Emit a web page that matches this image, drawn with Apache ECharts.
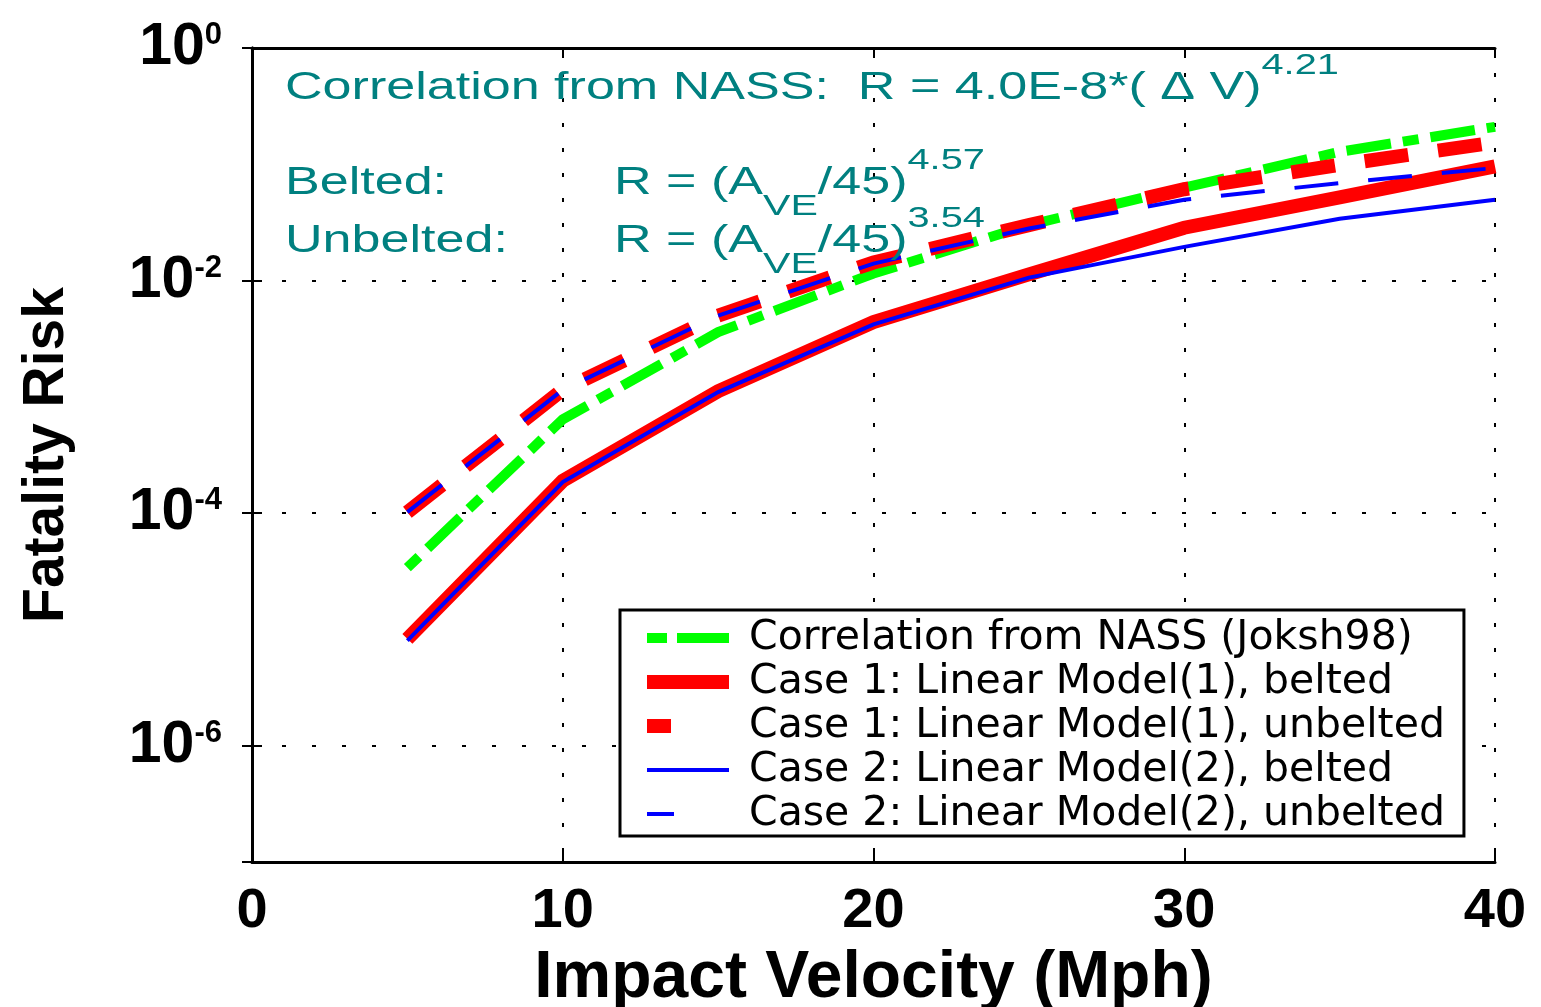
<!DOCTYPE html>
<html><head><meta charset="utf-8">
<script src="https://cdn.jsdelivr.net/npm/echarts@6/dist/echarts.min.js"></script>
<style>html,body{margin:0;padding:0;background:#fff}#c{width:1541px;height:1007px}</style>
</head><body><div id="c"></div>
<script>
// ---- data ----
const velocity = [5, 10, 15, 20, 25, 30, 35, 40];
const nassCorrelation = [3.4e-5, 6.4e-4, 3.6e-3, 1.15e-2, 3.0e-2, 6.3e-2, 0.128, 0.21];
const case1Belted = [8.3e-6, 1.9e-4, 1.12e-3, 4.4e-3, 1.13e-2, 2.85e-2, 5.2e-2, 9.6e-2];
const case1Unbelted = [1.02e-4, 1.15e-3, 5.0e-3, 1.43e-2, 3.0e-2, 6.1e-2, 9.9e-2, 0.154];
const case2Belted = [8.0e-6, 1.85e-4, 1.1e-3, 4.2e-3, 1.06e-2, 1.95e-2, 3.4e-2, 4.96e-2];
const case2Unbelted = [1.02e-4, 1.15e-3, 5.0e-3, 1.40e-2, 2.8e-2, 4.96e-2, 6.9e-2, 9.3e-2];
const seriesNames = [
  'Correlation from NASS (Joksh98)',
  'Case 1: Linear Model(1), belted',
  'Case 1: Linear Model(1), unbelted',
  'Case 2: Linear Model(2), belted',
  'Case 2: Linear Model(2), unbelted'
];
const xMin = 0, xMax = 40, xStep = 10;
const yMin = 1e-7, yMax = 1;
const xTitle = 'Impact Velocity (Mph)';
const yTitle = 'Fatality Risk';

const pairs = vals => velocity.map((v, i) => [v, vals[i]]);
const FONT = "'Liberation Sans', Arial, Helvetica, sans-serif";
const TEAL = '#008080';

const chart = echarts.init(document.getElementById('c'), null, {renderer: 'canvas'});

const gridDash = {color: '#000', width: 2};
const hideSym = {opacity: 0};
const option = {
  animation: false,
  backgroundColor: '#fff',
  grid: {left: 252, right: 46, top: 48, bottom: 145, containLabel: false, outerBoundsMode: 'none'},
  xAxis: [{
    type: 'value', min: xMin, max: xMax, interval: xStep, position: 'bottom',
    name: xTitle, nameLocation: 'middle', nameGap: 84,
    nameTextStyle: {fontFamily: FONT, fontSize: 66, fontWeight: 'bold', color: '#000'},
    axisLine: {show: true, lineStyle: {color: '#000', width: 3}},
    axisTick: {show: true, inside: true, length: 10, lineStyle: {color: '#000', width: 2}},
    axisLabel: {fontFamily: FONT, fontSize: 56, fontWeight: 'bold', color: '#000', margin: 22},
    splitLine: {show: true, lineStyle: Object.assign({type: [4, 21]}, gridDash)}
  }, {
    type: 'value', min: xMin, max: xMax, interval: xStep, position: 'top',
    axisLine: {show: true, onZero: false, lineStyle: {color: '#000', width: 3}},
    axisTick: {show: true, inside: true, length: 10, lineStyle: {color: '#000', width: 2}},
    axisLabel: {show: false}, splitLine: {show: false}
  }],
  yAxis: [{
    type: 'log', logBase: 100, min: yMin, max: yMax, splitNumber: 4, position: 'left',
    name: yTitle, nameLocation: 'middle', nameGap: 176, nameRotate: 90,
    nameTextStyle: {fontFamily: FONT, fontSize: 57, fontWeight: 'bold', color: '#000'},
    axisLine: {show: true, lineStyle: {color: '#000', width: 3}},
    axisTick: {show: true, inside: true, length: 10, lineStyle: {color: '#000', width: 2}},
    axisLabel: {
      margin: 30, showMinLabel: false,
      formatter: v => '{b|10}{s|' + Math.round(Math.log10(v)) + '}',
      rich: {
        b: {fontFamily: FONT, fontSize: 59, fontWeight: 'bold', color: '#000', lineHeight: 56, verticalAlign: 'middle'},
        s: {fontFamily: FONT, fontSize: 31, fontWeight: 'bold', color: '#000', lineHeight: 31, verticalAlign: 'top'}
      }
    },
    splitLine: {show: true, lineStyle: Object.assign({type: [4, 26]}, gridDash)}
  }, {
    type: 'log', logBase: 100, min: yMin, max: yMax, splitNumber: 4, position: 'right',
    axisLine: {show: true, lineStyle: {color: '#000', width: 3}},
    axisTick: {show: true, inside: true, length: 10, lineStyle: {color: '#000', width: 2}},
    axisLabel: {show: false}, splitLine: {show: false}
  }],
  legend: {
    orient: 'vertical', left: 620, top: 610, selectedMode: false,
    backgroundColor: '#fff', borderColor: '#000', borderWidth: 3, borderRadius: 0,
    padding: [6, 19, 0, 20], itemGap: 0, itemWidth: 82, itemHeight: 14,
    textStyle: {fontFamily: "'DejaVu Sans', sans-serif", fontSize: 41, color: '#000', lineHeight: 44, padding: [0, 0, 0, 15]},
    data: [
      {name: seriesNames[0], itemStyle: hideSym, lineStyle: {width: 10, type: [20, 10, 52, 100]}},
      {name: seriesNames[1], itemStyle: hideSym, lineStyle: {width: 14, type: 'solid'}},
      {name: seriesNames[2], itemStyle: hideSym, lineStyle: {width: 14, type: [24, 100]}},
      {name: seriesNames[3], itemStyle: hideSym, lineStyle: {width: 4, type: 'solid'}},
      {name: seriesNames[4], itemStyle: hideSym, lineStyle: {width: 4, type: [27, 100]}}
    ]
  },
  series: [
    {name: seriesNames[0], type: 'line', data: pairs(nassCorrelation), symbol: 'none', z: 2,
     lineStyle: {color: '#00ff00', width: 10, type: [16, 12, 45, 12], cap: 'butt', join: 'miter'}, itemStyle: {color: '#00ff00'}},
    {name: seriesNames[1], type: 'line', data: pairs(case1Belted), symbol: 'none', z: 3,
     lineStyle: {color: '#ff0000', width: 14, type: 'solid', cap: 'butt', join: 'miter'}, itemStyle: {color: '#ff0000'}},
    {name: seriesNames[2], type: 'line', data: pairs(case1Unbelted), symbol: 'none', z: 4,
     lineStyle: {color: '#ff0000', width: 14, type: [44, 30], cap: 'butt', join: 'miter'}, itemStyle: {color: '#ff0000'}},
    {name: seriesNames[3], type: 'line', data: pairs(case2Belted), symbol: 'none', z: 5,
     lineStyle: {color: '#0000ff', width: 4, type: 'solid', cap: 'butt', join: 'miter'}, itemStyle: {color: '#0000ff'}},
    {name: seriesNames[4], type: 'line', data: pairs(case2Unbelted), symbol: 'none', z: 6,
     lineStyle: {color: '#0000ff', width: 4, type: [44, 30], cap: 'butt', join: 'miter'}, itemStyle: {color: '#0000ff'}}
  ],
  graphic: (function () {
    const SX = 1.37;
    const rich = {
      m: {fontFamily: FONT, fontSize: 38, lineHeight: 76, verticalAlign: 'middle', fill: TEAL},
      p: {fontFamily: FONT, fontSize: 29, lineHeight: 29, verticalAlign: 'top', fill: TEAL},
      d: {fontFamily: FONT, fontSize: 30, lineHeight: 30, verticalAlign: 'bottom', fill: TEAL}
    };
    const t = (x, y, text) => ({
      type: 'text', x: x, y: y, scaleX: SX, z: 100, silent: true,
      style: {text: text, rich: rich, x: 0, y: 0, align: 'left', verticalAlign: 'middle',
              fontFamily: FONT, fontSize: 38, fill: TEAL}
    });
    return [
      t(285, 89, '{m|Correlation from NASS:  R = 4.0E-8*( \u0394 V)}{p|4.21}'),
      t(285, 184, '{m|Belted:}'),
      t(614, 184, '{m|R = (A}{d|VE}{m|/45)}{p|4.57}'),
      t(285, 242, '{m|Unbelted:}'),
      t(614, 242, '{m|R = (A}{d|VE}{m|/45)}{p|3.54}')
    ];
  })()
};
chart.setOption(option);
</script>
</body></html>
